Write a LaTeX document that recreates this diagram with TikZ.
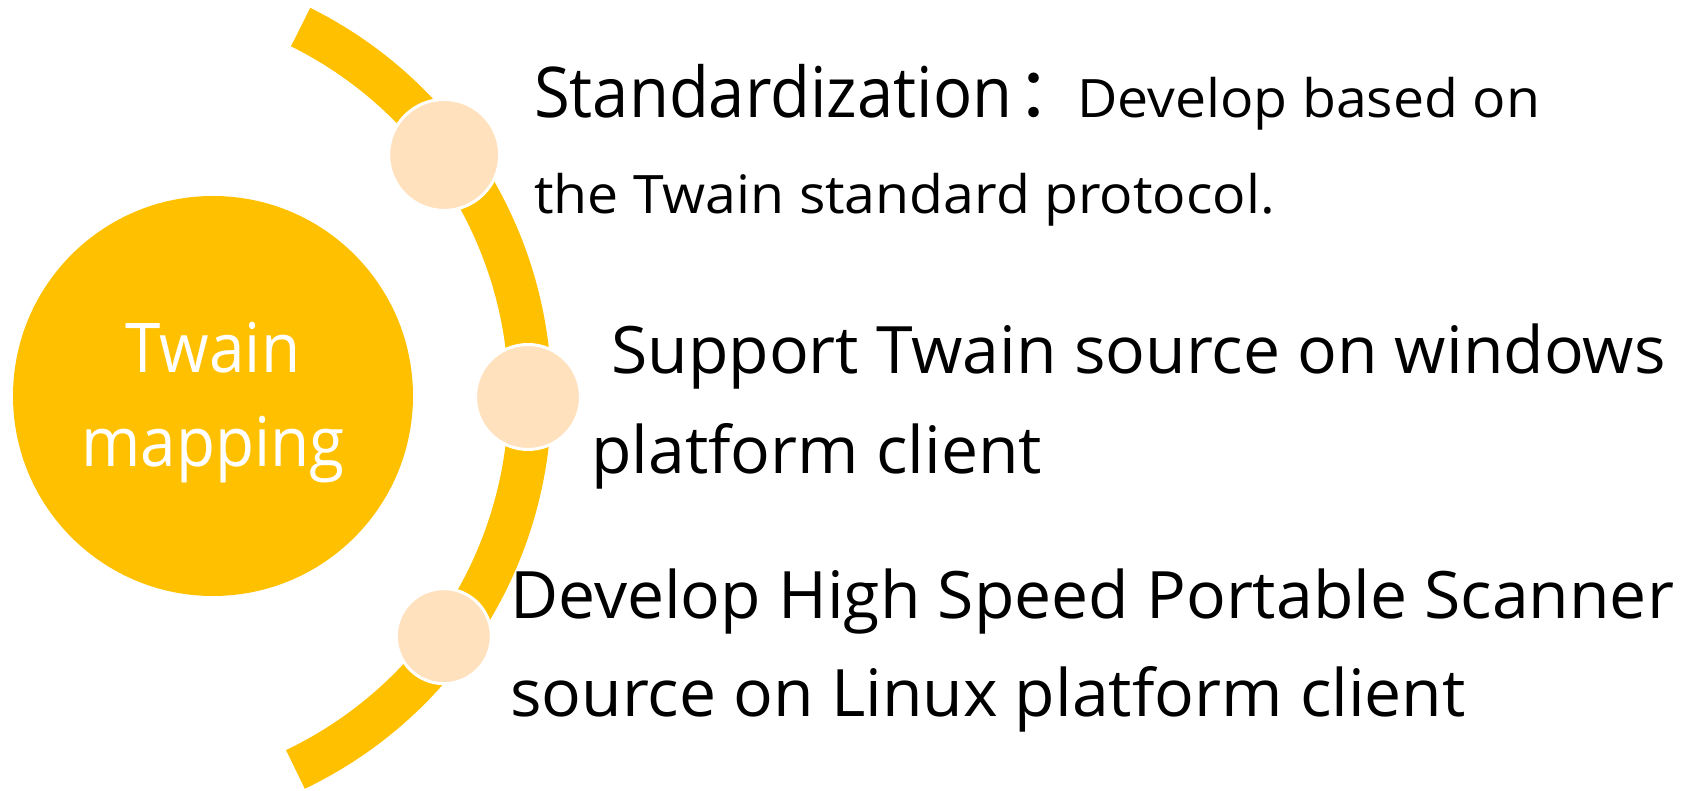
\documentclass[tikz,border=0pt]{standalone}
\usepackage{fontspec}
\setmainfont{Open Sans}[FakeStretch=1.01]
\newfontfamily\widefont{Open Sans}[FakeStretch=1.045]
\newfontfamily\narrowfont{Open Sans}[FakeStretch=0.93]
\newfontfamily\cjk{Noto Sans CJK SC}
\usetikzlibrary{positioning}

\definecolor{gold}{RGB}{255,192,0}
\definecolor{peach}{RGB}{255,225,190}

\tikzset{
  hub/.style={circle, fill=gold, minimum size=400pt, inner sep=0pt},
  hubtext/.style={text=white, align=center, inner sep=0pt,
    font=\narrowfont\fontsize{68.6}{94}\selectfont},
  ring/.style={draw=gold, line width=43pt},
  bead/.style={circle, fill=peach, draw=white, line width=3pt, inner sep=0pt},
  itemtext/.style={anchor=base west, inner sep=0pt, text=black,
    font=\fontsize{65.4}{65.4}\selectfont},
  smalltext/.style={itemtext, font=\widefont\fontsize{53}{53}\selectfont},
}

\begin{document}
\begin{tikzpicture}[x=1pt, y=1pt]
  \useasboundingbox (0,0) rectangle (1691,791);

  % ring and hub
  \coordinate (pivot) at (117,394);
  \draw[ring] ([shift={(-64.4:413)}]pivot) arc[start angle=-64.4, end angle=63.6, radius=413];
  \node[hub] (hub) at (213,395) {};
  \node[hubtext] (hubtext) at ([yshift=-7pt]hub.center) {Twain\\mapping};

  % beads on the ring
  \node[bead, minimum size=111pt] (bead1) at ([shift={(36.5:407)}]pivot) {};
  \node[bead, minimum size=105pt] (bead2) at ([shift={(0:411)}]pivot) {};
  \node[bead, minimum size=95pt] (bead3) at ([shift={(-36.2:405)}]pivot) {};

  % texts
  \node[smalltext] (std1) at (534,673)
    {{\narrowfont\fontsize{70}{70}\selectfont Standardization\kern4pt{\cjk ：}\kern-9pt}Develop based on};
  \node[smalltext] (std2) at (534,577) {the Twain standard protocol.};
  \node[itemtext] (win1) at (611,417) {Support Twain source on windows};
  \node[itemtext] (win2) at (591,317) {platform client};
  \node[itemtext] (lin1) at (510,172) {Develop High Speed Portable Scanner};
  \node[itemtext] (lin2) at (510,74) {source on Linux platform client};
\end{tikzpicture}
\end{document}
